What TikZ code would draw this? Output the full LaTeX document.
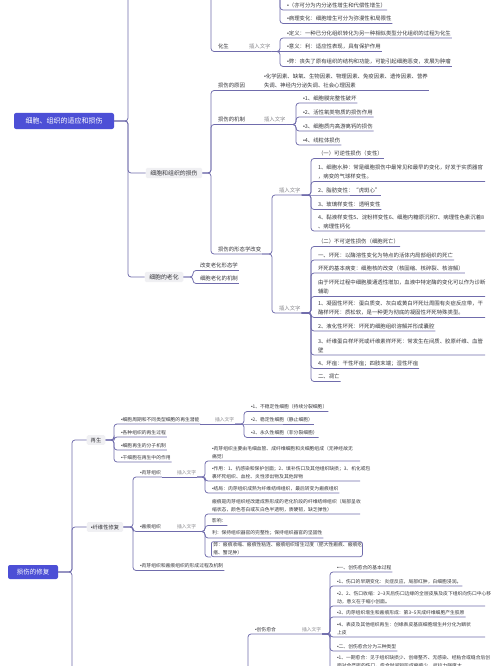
\documentclass[tikz,border=0pt]{standalone}
\usepackage{fontspec}
\setmainfont{Noto Sans CJK SC}
\newfontfamily\mybulf{Liberation Sans}
\newcommand{\bu}{{\mybulf •}}
\definecolor{lnc}{RGB}{112,108,172}
\definecolor{rootc}{RGB}{76,79,214}
\definecolor{txtc}{RGB}{55,55,60}
\definecolor{insc}{RGB}{135,135,140}
\definecolor{boxc}{RGB}{240,240,243}
\newcommand{\myfa}{\fontsize{5.4}{9}\selectfont}
\newcommand{\myfb}{\fontsize{4.8}{8}\selectfont}
\newcommand{\myfl}{\fontsize{5.9}{7}\selectfont}
\newcommand{\myflb}{\fontsize{5.3}{7}\selectfont}
\tikzset{
 ln/.style={draw=lnc, line width=0.75pt, rounded corners=3pt},
 ita/.style={anchor=south west, inner xsep=0.8pt, inner ysep=2.1pt, text=txtc, align=left, font=\myfa},
 itb/.style={ita, font=\myfb},
 insa/.style={ita, text=insc},
 insb/.style={itb, text=insc},
 wra/.style={text width=166pt},
 wrb/.style={text width=147pt},
 boxb/.style={itb, draw=lnc, line width=0.75pt, rounded corners=2pt, inner ysep=1.2pt, inner xsep=2pt},
 lvla/.style={fill=boxc, rounded corners=1.5pt, text=txtc, inner xsep=4.5pt, inner ysep=2.5pt, font=\myfl},
 lvlb/.style={lvla, font=\myflb, inner xsep=4pt},
 rootn/.style={fill=rootc, rounded corners=2pt, text=white, inner sep=0pt},
}
\begin{document}
\begin{tikzpicture}[x=1pt,y=-1pt]
\fill[white] (0,0) rectangle (500,666);
\useasboundingbox (0,0) rectangle (500,666);

% ================= TOP: root 1 =================
\node[rootn, minimum width=100pt, minimum height=16pt, font=\fontsize{7}{8}\selectfont] (root1) at (64,121) {细胞、组织的适应和损伤};
\coordinate (r1top) at (128,-40);
\node[lvla] (sh) at (174,173) {细胞和组织的损伤};
\node[lvla] (lh) at (164,277) {细胞的老化};
\draw[ln] (root1.east) -- (128,121) -- (r1top);
\draw[ln] (root1.east) -- (128,121) |- (sh.west);
\draw[ln] (root1.east) -- (128,121) |- (lh.west);

% clipped upper branches
\coordinate (zsP) at (280,-30);
\node[ita] (zs1) at (286,10) {\bu{}（亦可分为内分泌性增生和代偿性增生）};
\node[ita] (zs2) at (286,23.5) {\bu{}病理变化：细胞增生可分为弥漫性和局限性};
\draw[ln] (zsP) |- (zs1.south west) -- (zs1.south east);
\draw[ln] (zsP) |- (zs2.south west) -- (zs2.south east);

\coordinate (syP) at (211,-40);
\node[ita] (hs) at (217,51.5) {化生};
\node[insa] (hsI) at (248,51.5) {插入文字};
\draw[ln] (syP) |- (hs.south west) -- (hs.south east) -- (hsI.south east);
\node[ita] (hs1) at (286,38) {\bu{}定义：一种已分化组织转化为另一种相似类型分化组织的过程为化生};
\node[ita] (hs2) at (286,51.5) {\bu{}意义：利：适应性表现，具有保护作用};
\node[ita] (hs3) at (286,66.5) {\bu{}弊：丧失了原有组织的结构和功能，可能引起细胞恶变，发展为肿瘤};
\draw[ln] (hsI.south east) -- (280,51.5) |- (hs1.south west) -- (hs1.south east);
\draw[ln] (hsI.south east) -- (hs2.south west) -- (hs2.south east);
\draw[ln] (hsI.south east) -- (280,51.5) |- (hs3.south west) -- (hs3.south east);

% 损伤的原因
\node[ita] (c1) at (217,90.5) {损伤的原因};
\node[ita] (c1t) at (263,90.5) {\bu{}化学因素、缺氧、生物因素、物理因素、免疫因素、遗传因素、营养\\失调、神经内分泌失调、社会心理因素};
\draw[ln] (sh.east) -- (211,173) |- (c1.south west) -- (c1.south east) -- (c1t.south east);

% 损伤的机制
\node[ita] (c2) at (217,124.5) {损伤的机制};
\node[insa] (c2I) at (263,124.5) {插入文字};
\draw[ln] (sh.east) -- (211,173) |- (c2.south west) -- (c2.south east) -- (c2I.south east);
\node[ita] (m1) at (302,103) {\bu{}1、细胞膜完整性破坏};
\node[ita] (m2) at (302,117) {\bu{}2、活性氧类物质的损伤作用};
\node[ita] (m3) at (302,131) {\bu{}3、细胞质内高游离钙的损伤};
\node[ita] (m4) at (302,145) {\bu{}4、线粒体损伤};
\foreach \nn in {m1,m2,m3,m4}
  \draw[ln] (c2I.south east) -- (296,124.5) |- (\nn.south west) -- (\nn.south east);

% 损伤的形态学改变
\node[ita] (c3) at (217,254) {损伤的形态学改变};
\draw[ln] (sh.east) -- (211,173) |- (c3.south west) -- (c3.south east);
\node[insa] (rI) at (278,195) {插入文字};
\node[insa] (iI) at (278,313) {插入文字};
\draw[ln] (c3.south east) -- (272,254) |- (rI.south west) -- (rI.south east);
\draw[ln] (c3.south east) -- (272,254) |- (iI.south west) -- (iI.south east);

\node[ita] (r0) at (317,158.5) {（一）可逆性损伤（变性）};
\node[ita,wra] (r1) at (317,181.5) {1、细胞水肿：常是细胞损伤中最常见和最早的变化，好发于实质器官\\，病变的气球样变性。};
\node[ita] (r2) at (317,195) {2、脂肪变性：“虎斑心”};
\node[ita] (r3) at (317,209.5) {3、玻璃样变性：透明变性};
\node[ita,wra] (r4) at (317,231) {4、黏液样变性5、淀粉样变性6、细胞内糖原沉积7、病理性色素沉着8\\、病理性钙化};
\foreach \nn in {r0,r1,r3,r4}
  \draw[ln] (rI.south east) -- (311,195) |- (\nn.south west) -- (\nn.south east);
\draw[ln] (rI.south east) -- (r2.south west) -- (r2.south east);

\node[ita] (i0) at (317,246.5) {（二）不可逆性损伤（细胞死亡）};
\node[ita] (i1) at (317,260) {一、坏死：以酶溶性变化为特点的活体内局部组织的死亡};
\node[ita] (i2) at (317,273) {坏死的基本病变：细胞核的改变（核固缩、核碎裂、核溶解）};
\node[ita,wra] (i3) at (317,296.5) {由于坏死过程中细胞膜通透性增加，血液中特定酶的变化可以作为诊断\\辅助};
\node[ita,wra] (i4) at (317,317.5) {1、凝固性坏死：蛋白质变、灰白或黄白坏死灶周围有炎症反应带，干\\酪样坏死：质松软，是一种更为彻底的凝固性坏死特殊类型。};
\node[ita] (i5) at (317,331) {2、液化性坏死：坏死的细胞组织溶解并形成囊腔};
\node[ita,wra] (i6) at (317,355) {3、纤维蛋白样坏死或纤维素样坏死：常发生在间质、胶原纤维、血管\\壁};
\node[ita] (i7) at (317,368.5) {4、坏疽：干性坏疽；四肢末端；湿性坏疽};
\node[ita] (i8) at (317,381.5) {二、凋亡};
\foreach \nn in {i0,i1,i2,i3,i4,i5,i6,i7,i8}
  \draw[ln] (iI.south east) -- (311,313) |- (\nn.south west) -- (\nn.south east);

% 细胞的老化
\node[ita] (a1) at (199,270.5) {改变老化形态学};
\node[ita] (a2) at (199,283.5) {细胞老化的机制};
\foreach \nn in {a1,a2}
  \draw[ln] (lh.east) -- (193,277) |- (\nn.south west) -- (\nn.south east);

% ================= BOTTOM: root 2 =================
\node[rootn, minimum width=50pt, minimum height=14pt, font=\fontsize{6.5}{7}\selectfont] (root2) at (33,572) {损伤的修复};
\coordinate (r2bot) at (72,720);
\node[lvlb] (zs) at (96,440) {再生};
\node[lvlb] (xw) at (105,527) {\bu{}纤维性修复};
\draw[ln] (root2.east) -- (72,572) -- (r2bot);
\draw[ln] (root2.east) -- (72,572) |- (zs.west);
\draw[ln] (root2.east) -- (72,572) |- (xw.west);

% 再生
\node[itb] (g1) at (120,424) {\bu{}细胞周期和不同类型细胞的再生潜能};
\node[itb] (g2) at (120,437) {\bu{}各种组织的再生过程};
\node[itb] (g3) at (120,450) {\bu{}细胞再生的分子机制};
\node[itb] (g4) at (120,462) {\bu{}干细胞在再生中的作用};
\foreach \nn in {g1,g2,g3,g4}
  \draw[ln] (zs.east) -- (114,440) |- (\nn.south west) -- (\nn.south east);
\node[insb] (g1I) at (214,424) {插入文字};
\draw[ln] (g1.south east) -- (g1I.south east);
\node[itb] (g1a) at (250,411.5) {\bu{}1、不稳定性细胞（持续分裂细胞）};
\node[itb] (g1b) at (250,424) {\bu{}2、稳定性细胞（静止细胞）};
\node[itb] (g1c) at (250,437.5) {\bu{}3、永久性细胞（非分裂细胞）};
\draw[ln] (g1I.south east) -- (244,424) |- (g1a.south west) -- (g1a.south east);
\draw[ln] (g1I.south east) -- (g1b.south west) -- (g1b.south east);
\draw[ln] (g1I.south east) -- (244,424) |- (g1c.south west) -- (g1c.south east);

% 纤维性修复
\node[itb] (h1) at (139,477) {\bu{}肉芽组织};
\node[itb] (h2) at (139,531.5) {\bu{}瘢痕组织};
\node[itb] (h3) at (139,570.5) {\bu{}肉芽组织和瘢痕组织的形成过程及机制};
\foreach \nn in {h1,h2,h3}
  \draw[ln] (xw.east) -- (133,527) |- (\nn.south west) -- (\nn.south east);
\node[insb] (h1I) at (176,477) {插入文字};
\node[insb] (h2I) at (176,531.5) {插入文字};
\draw[ln] (h1.south east) -- (h1I.south east);
\draw[ln] (h2.south east) -- (h2I.south east);

\node[itb,wrb] (h1a) at (211,461) {\bu{}肉芽组织主要由毛细血管、成纤维细胞和炎细胞组成（无神经故无\\痛觉）};
\node[itb,wrb] (h1b) at (211,481) {\bu{}作用：1、抗感染和保护创面；2、填补伤口及其他组织缺损；3、机化或包\\裹坏死组织、血栓、炎性渗出物及其他异物};
\node[itb] (h1c) at (211,493) {\bu{}结局：肉芽组织成熟为纤维结缔组织，最后转变为瘢痕组织};
\foreach \nn in {h1a,h1b,h1c}
  \draw[ln] (h1I.south east) -- (205,477) |- (\nn.south west) -- (\nn.south east);

\node[itb,wrb] (h2a) at (211,514) {瘢痕是肉芽组织经改建成熟形成的老化阶段的纤维结缔组织（局部呈收\\缩状态，颜色苍白或灰白色半透明，质硬韧，缺乏弹性）};
\node[itb] (h2b) at (211,525.5) {影响：};
\node[itb] (h2c) at (211,538) {利：保持组织器官的完整性；保持组织器官的坚固性};
\node[boxb,text width=147pt] (h2d) at (211,557) {弊：瘢痕收缩、瘢痕性粘连、瘢痕组织增生过度（肥大性瘢痕、瘢痕疙\\瘩、蟹足肿）};
\foreach \nn in {h2a,h2b,h2c}
  \draw[ln] (h2I.south east) -- (205,531.5) |- (\nn.south west) -- (\nn.south east);
\draw[ln] (h2I.south east) -- (205,531.5) |- (h2d.south west);

% 创伤愈合
\coordinate (cyP) at (248,700);
\node[itb] (cy) at (254,634) {\bu{}创伤愈合};
\node[insb] (cyI) at (301,634) {插入文字};
\draw[ln] (cyP) |- (cy.south west) -- (cy.south east) -- (cyI.south east);
\node[itb] (k1) at (336,572) {\bu{}一、创伤愈合的基本过程};
\node[itb] (k2) at (336,586) {\bu{}1、伤口的早期变化：炎症反应，局部红肿，白细胞浸润。};
\node[itb,wrb] (k3) at (336,606) {\bu{}2、2、伤口收缩：2\textasciitilde 3天后伤口边缘的全层皮肤及皮下组织向伤口中心移\\动，意义在于缩小创面。};
\node[itb] (k4) at (336,617) {\bu{}3、肉芽组织增生和瘢痕形成：第3\textasciitilde 5天成纤维细胞产生胶原};
\node[itb,wrb] (k5) at (336,637) {\bu{}4、表皮及其他组织再生：创缘表皮基底细胞增生并分化为鳞状\\上皮};
\node[itb] (k6) at (336,651) {\bu{}二、创伤愈合分为三种类型};
\node[itb,wrb] (k7) at (336,670) {\bu{}1、一期愈合：见于组织缺损少、创缘整齐、无感染、经粘合或缝合后创\\面对合严密的伤口。愈合时间短形成瘢痕少，抗拉力强度大};
\foreach \nn in {k1,k2,k3,k4,k5,k6,k7}
  \draw[ln] (cyI.south east) -- (330,634) |- (\nn.south west) -- (\nn.south east);
\end{tikzpicture}
\end{document}
